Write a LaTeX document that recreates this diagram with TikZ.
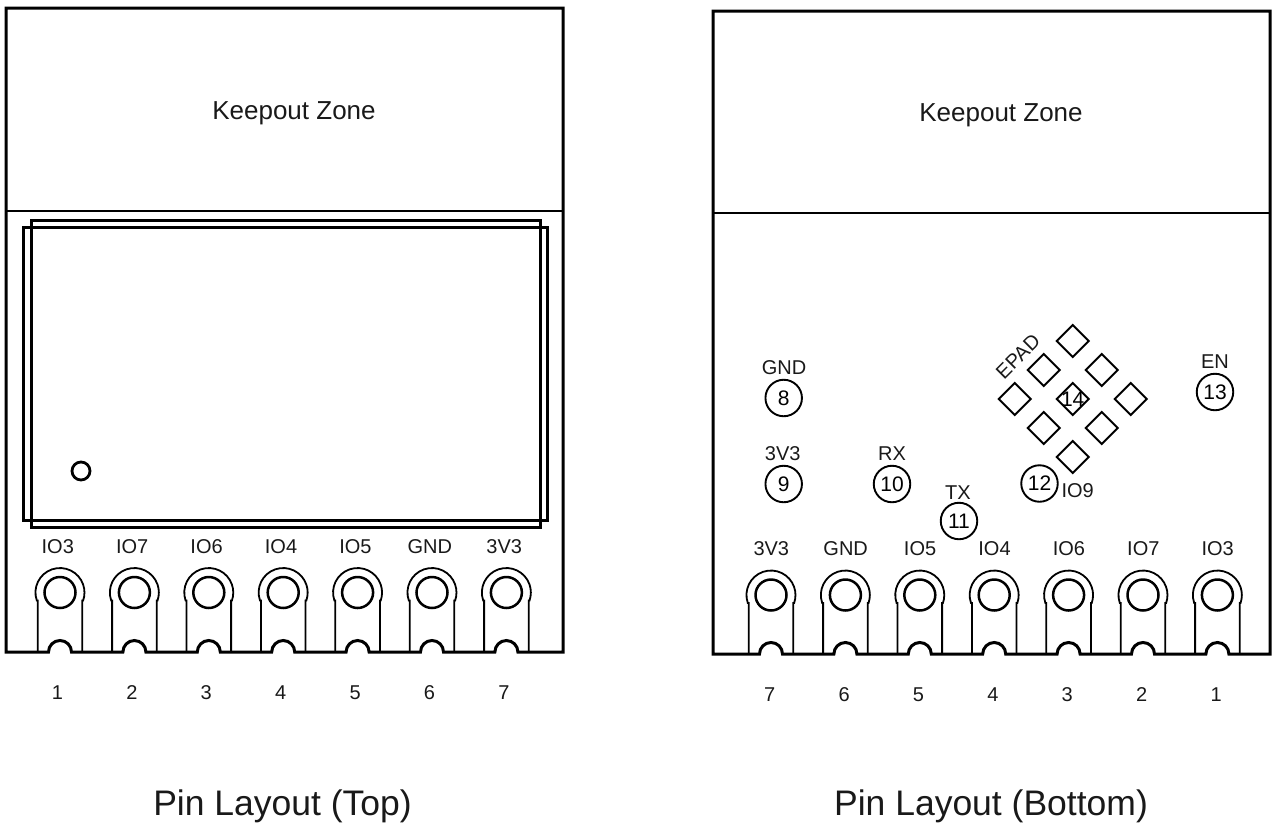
\documentclass[tikz,border=0pt]{standalone}
\usepackage{fontspec}
\setmainfont{Liberation Sans}
\tikzset{
  thick line/.style={line width=3pt,line join=miter,black},
  thin line/.style={line width=1.8pt,black},
  pad line/.style={line width=1.8pt,black},
  pin text/.style={font=\fontsize{20}{22}\selectfont,inner sep=0pt,text=black!90},
  zone text/.style={font=\fontsize{26}{28}\selectfont,inner sep=0pt,text=black!90},
  title text/.style={font=\fontsize{35.5}{37}\selectfont,inner sep=0pt,anchor=base,text=black!90},
  num circle/.style={circle,draw=black,line width=1.9pt,minimum size=36.5pt,inner sep=0pt,font=\fontsize{21}{22}\selectfont},
  diamond pad/.style={draw=black,line width=1.9pt}
}
\newcommand{\pinshape}[3]{% x, ycenter, ybottom
  \draw[pad line] (#1-22.3,#3) -- (#1-22.3,#2+8) -- (#1-23.2,#2+8) arc[start angle=161,end angle=379,radius=24.5] -- (#1+22.3,#2+8) -- (#1+22.3,#3);
  \draw[line width=2.5pt,black] (#1,#2) circle[radius=15.5];
}
\begin{document}
\begin{tikzpicture}[x=1pt,y=-1pt]
\useasboundingbox (0,0) rectangle (1272,825);
% ---------- LEFT ----------
\draw[thick line] (6,652) -- (6,8) -- (563,8) -- (563,652)
  \foreach \c in {506.4,432,357.6,283.2,208.8,134.4,60}{ -- (\c+11.5,652) arc[start angle=0,end angle=-180,radius=11.5] } -- cycle;
\draw[thin line] (6,211) -- (563,211);
\draw[thick line] (31,220) rectangle (540,527);
\draw[thick line] (23,227) rectangle (547,520);
\draw[line width=2.8pt,black] (81,471) circle[radius=9];
\foreach \x/\t/\n [count=\i] in {60/IO3/1,134.4/IO7/2,208.8/IO6/3,283.2/IO4/4,357.6/IO5/5,432/GND/6,506.4/3V3/7}{
  \pinshape{\x}{592.5}{652}
  \node[pin text] (lt\i) at (\x-2.2,547) {\t};
  \node[pin text] (ln\i) at (\x-2.5,693) {\n};
}
\node[zone text] (lkz) at (294,113) {Keepout Zone};
\node[title text] (ltitle) at (282.5,815) {Pin Layout (Top)};
% ---------- RIGHT ----------
\draw[thick line] (713,654) -- (713,11) -- (1270,11) -- (1270,654)
  \foreach \c in {1217.4,1143,1068.6,994.2,919.8,845.4,771}{ -- (\c+11.5,654) arc[start angle=0,end angle=-180,radius=11.5] } -- cycle;
\draw[thin line] (713,213) -- (1270,213);
\foreach \x/\t/\n [count=\i] in {771/3V3/7,845.4/GND/6,919.8/IO5/5,994.2/IO4/4,1068.6/IO6/3,1143/IO7/2,1217.4/IO3/1}{
  \pinshape{\x}{595}{654}
  \node[pin text] (rt\i) at (\x+0.3,548.5) {\t};
  \node[pin text] (rn\i) at (\x-1.3,695) {\n};
}
\node[zone text] (rkz) at (1001,115) {Keepout Zone};
\node[title text] (rtitle) at (991,815) {Pin Layout (Bottom)};
% diamonds
\foreach \x/\y in {1072.7/341,1043.7/370,1101.7/370,1014.7/399,1072.7/399,1130.7/399,1043.7/428,1101.7/428,1072.7/457}{
  \draw[diamond pad] (\x,\y-16) -- (\x+16,\y) -- (\x,\y+16) -- (\x-16,\y) -- cycle;
}
\node[pin text,rotate=45] (epad) at (1018,356.5) {EPAD};
\node[inner sep=0pt,font=\fontsize{21}{22}\selectfont] (n14) at (1072.7,399) {14};
% numbered circles
\node[num circle] (c8) at (783.7,398) {8};
\node[num circle] (c9) at (783.7,484) {9};
\node[num circle] (c10) at (892,484) {10};
\node[num circle] (c11) at (959,521) {11};
\node[num circle] (c12) at (1039.5,483.5) {12};
\node[num circle] (c13) at (1215,392) {13};
\node[pin text] (tgnd) at (784,367.5) {GND};
\node[pin text] (t3v3) at (782.7,453.5) {3V3};
\node[pin text] (trx) at (892,453.5) {RX};
\node[pin text] (ttx) at (958,492.5) {TX};
\node[pin text] (tio9) at (1077.7,490.5) {IO9};
\node[pin text] (ten) at (1215,362) {EN};
\end{tikzpicture}
\end{document}
